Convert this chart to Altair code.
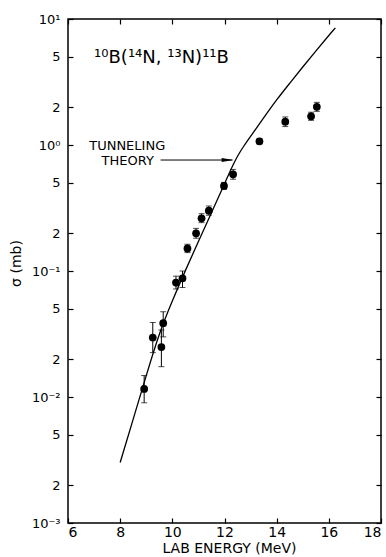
import altair as alt
import pandas as pd

energy = [8.92, 9.25, 9.58, 9.65, 10.14, 10.39, 10.58, 10.91, 11.12, 11.40, 11.98, 12.33, 13.34, 14.33, 15.32, 15.54]
sigma = [0.0116, 0.0296, 0.0249, 0.0385, 0.081, 0.0875, 0.151, 0.199, 0.262, 0.301, 0.473, 0.585, 1.07, 1.53, 1.69, 2.01]
sigma_lo = [0.0090, 0.0225, 0.0174, 0.030, 0.072, 0.074, 0.140, 0.182, 0.242, 0.277, 0.445, 0.535, 1.02, 1.40, 1.57, 1.85]
sigma_hi = [0.0148, 0.039, 0.034, 0.0475, 0.091, 0.100, 0.163, 0.218, 0.285, 0.328, 0.505, 0.640, 1.12, 1.67, 1.82, 2.18]

# ---- tunneling theory curve ----
curve_e = [8.0, 8.5, 9.0, 9.5, 10.0, 10.5, 11.0, 11.5, 12.0, 12.25, 12.5, 12.75, 13.0, 13.5, 14.0, 14.5, 15.0, 15.5, 16.0, 16.25]
curve_s = [0.00302, 0.00668, 0.0148, 0.0324, 0.0582, 0.101, 0.172, 0.290, 0.490, 0.646, 0.822, 0.989, 1.17, 1.64, 2.29, 3.09, 4.17, 5.56, 7.41, 8.51]

# ---- axis ticks ----
xtick_vals = [6, 8, 10, 12, 14, 16, 18]
ytick_vals = [0.001, 0.002, 0.005, 0.01, 0.02, 0.05, 0.1, 0.2, 0.5, 1, 2, 5, 10]
ytick_text = ['10⁻³', '2', '5', '10⁻²', '2', '5', '10⁻¹', '2', '5', '10⁰', '2', '5', '10¹']

# ---- annotations ----
reaction_text = ['¹⁰B(¹⁴N, ¹³N)¹¹B']
reaction_e = [7.0]
reaction_s = [4.9]

label_text = ['TUNNELING', 'THEORY']
label_e = [8.27, 8.29]
label_s = [0.98, 0.746]

arrow_e = [9.55, 12.3]
arrow_s = [0.76, 0.76]
arrowhead_e = [12.12]
arrowhead_s = [0.76]

FONT = 'DejaVu Sans'

pts = pd.DataFrame({'e': energy, 's': sigma, 'lo': sigma_lo, 'hi': sigma_hi})
cur = pd.DataFrame({'e': curve_e, 's': curve_s})
rx = pd.DataFrame({'e': reaction_e, 's': reaction_s, 't': reaction_text})
lab = pd.DataFrame({'e': label_e, 's': label_s, 't': label_text})
arr = pd.DataFrame({'e': arrow_e, 's': arrow_s})
ah = pd.DataFrame({'e': arrowhead_e, 's': arrowhead_s})

xs = alt.Scale(domain=[6, 18], nice=False)
ys = alt.Scale(type='log', domain=[0.001, 10], nice=False)

ylabel_expr = " : ".join(
    f"abs(datum.value - {v}) < {v * 1e-6} ? '{t}'" for v, t in zip(ytick_vals, ytick_text)
) + " : ''"

bottom_axis = alt.Axis(values=xtick_vals, orient='bottom', offset=-5, tickSize=5, domain=False, grid=False,
                       labelPadding=2, labelFontSize=14, labelFont=FONT, labelColor='black', tickColor='black',
                       tickWidth=1.2, title='LAB   ENERGY   (MeV)', titleFont=FONT, titleFontSize=14,
                       titleFontWeight='normal', titleColor='black', titleX=94, titleY=30,
                       titleAlign='left', titleBaseline='middle')
left_axis = alt.Axis(values=ytick_vals, orient='left', offset=-5, tickSize=5, domain=False, grid=False,
                     labelPadding=8, labelFontSize=13, labelFont=FONT, labelColor='black', tickColor='black',
                     tickWidth=1.2, labelExpr=ylabel_expr, title='σ (mb)', titleFont=FONT, titleFontSize=14,
                     titleFontWeight='normal', titleColor='black', titleX=-57, titleY=244,
                     titleAlign='center', titleBaseline='middle')
top_axis = alt.Axis(values=xtick_vals, orient='top', offset=-5, tickSize=5, domain=False, grid=False,
                    labels=False, tickColor='black', tickWidth=1.2, title=None)
right_axis = alt.Axis(values=ytick_vals, orient='right', offset=-5, tickSize=5, domain=False, grid=False,
                      labels=False, tickColor='black', tickWidth=1.2, title=None)

points = alt.Chart(pts).mark_circle(size=60, color='black', opacity=1).encode(
    x=alt.X('e:Q', scale=xs, axis=bottom_axis),
    y=alt.Y('s:Q', scale=ys, axis=left_axis),
)

bars = alt.Chart(pts).mark_rule(color='black', strokeWidth=1).encode(
    x=alt.X('e:Q', scale=xs, axis=None),
    y=alt.Y('lo:Q', scale=ys, axis=None),
    y2='hi:Q',
)
cap_lo = alt.Chart(pts).mark_tick(color='black', orient='horizontal', size=6, thickness=1).encode(
    x=alt.X('e:Q', scale=xs, axis=None),
    y=alt.Y('lo:Q', scale=ys, axis=None),
)
cap_hi = alt.Chart(pts).mark_tick(color='black', orient='horizontal', size=6, thickness=1).encode(
    x=alt.X('e:Q', scale=xs, axis=None),
    y=alt.Y('hi:Q', scale=ys, axis=None),
)

curve = alt.Chart(cur).mark_line(color='black', strokeWidth=1.3, interpolate='basis').encode(
    x=alt.X('e:Q', scale=xs, axis=top_axis),
    y=alt.Y('s:Q', scale=ys, axis=right_axis),
)

reaction = alt.Chart(rx).mark_text(font=FONT, fontSize=18, align='left', baseline='middle', color='black').encode(
    x=alt.X('e:Q', scale=xs, axis=None),
    y=alt.Y('s:Q', scale=ys, axis=None),
    text='t:N',
)

labels = alt.Chart(lab).mark_text(font=FONT, fontSize=13, align='center', baseline='middle', color='black').encode(
    x=alt.X('e:Q', scale=xs, axis=None),
    y=alt.Y('s:Q', scale=ys, axis=None),
    text='t:N',
)

arrow = alt.Chart(arr).mark_line(color='black', strokeWidth=1).encode(
    x=alt.X('e:Q', scale=xs, axis=None),
    y=alt.Y('s:Q', scale=ys, axis=None),
)
head = alt.Chart(ah).mark_point(shape='M-1,-0.35L1,0L-1,0.35Z', size=144, filled=True, color='black', opacity=1).encode(
    x=alt.X('e:Q', scale=xs, axis=None),
    y=alt.Y('s:Q', scale=ys, axis=None),
)

chart = alt.layer(points, bars, cap_lo, cap_hi, curve, reaction, labels, arrow, head).resolve_axis(
    x='independent', y='independent'
).properties(
    width=313, height=504,
    padding={'left': 68, 'top': 19, 'right': 5, 'bottom': 34},
    autosize=alt.AutoSizeParams(type='none'),
    background='white',
).configure_view(stroke='black', strokeWidth=1.5)

chart.save('out.html', embed_options={'renderer': 'svg', 'actions': False})
